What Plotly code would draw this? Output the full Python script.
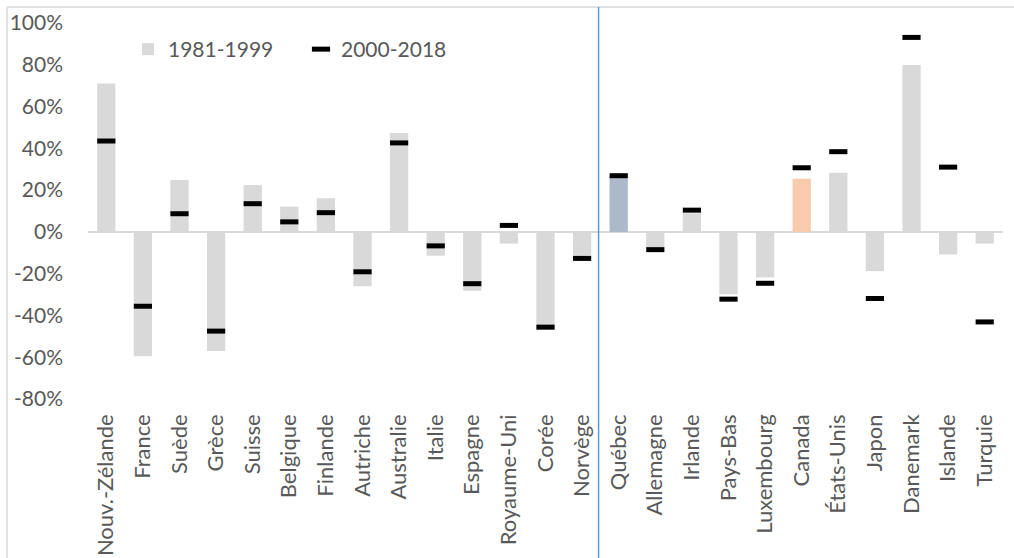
import plotly.graph_objects as go

# Country / province labels along the x axis
categories = ["Nouv.-Zélande", "France", "Suède", "Grèce", "Suisse", "Belgique",
              "Finlande", "Autriche", "Australie", "Italie", "Espagne",
              "Royaume-Uni", "Corée", "Norvège", "Québec", "Allemagne",
              "Irlande", "Pays-Bas", "Luxembourg", "Canada", "États-Unis",
              "Japon", "Danemark", "Islande", "Turquie"]

# Variation (%) for each period
period_1981_1999 = [71.0, -59.5, 24.8, -57.0, 22.4, 12.1, 16.1, -26.0, 47.3, -11.4,
                    -28.2, -5.6, -47.0, -12.0, 26.4, -7.2, 8.9, -29.8, -21.8, 25.4,
                    28.3, -18.8, 79.9, -10.8, -5.6]
period_2000_2018 = [43.5, -35.6, 8.7, -47.5, 13.5, 4.8, 9.2, -19.1, 42.6, -6.7,
                    -24.8, 3.1, -45.6, -12.7, 26.9, -8.5, 10.4, -32.2, -24.6, 30.7,
                    38.4, -31.9, 93.1, 31.0, -43.1]

y_ticks = [-80, -60, -40, -20, 0, 20, 40, 60, 80, 100]

# Highlight colours
GREY = "#D9D9D9"
highlight = {"Québec": "#ADB9CA", "Canada": "#F8CBAD"}
bar_colors = [highlight.get(c, GREY) for c in categories]

TEXT = "#595959"
FONT = "Lato"

W, H = 1014, 558
ML, MR, MT, MB = 88, 11, 23, 159
plot_w = W - ML - MR
plot_h = H - MT - MB


def px_to_paper_x(px):
    return (px - ML) / plot_w


def px_to_paper_y(py):
    return (H - MB - py) / plot_h


fig = go.Figure()
fig.add_trace(go.Bar(
    x=categories, y=period_1981_1999, name="1981-1999",
    marker=dict(color=bar_colors, line=dict(width=0)),
    width=0.5,
))
fig.add_trace(go.Scatter(
    x=categories, y=period_2000_2018, name="2000-2018", mode="markers",
    marker=dict(symbol="line-ew", size=13, color="black",
                line=dict(color="black", width=5)),
))

shapes = [
    # outer frame (top and left edges)
    dict(type="line", xref="paper", yref="paper",
         x0=px_to_paper_x(7), x1=px_to_paper_x(W + 5),
         y0=px_to_paper_y(7), y1=px_to_paper_y(7),
         line=dict(color="#D9D9D9", width=1.5)),
    dict(type="line", xref="paper", yref="paper",
         x0=px_to_paper_x(7), x1=px_to_paper_x(7),
         y0=px_to_paper_y(7), y1=px_to_paper_y(H + 5),
         line=dict(color="#D9D9D9", width=1.5)),
    # separator between the two groups of countries
    dict(type="line", xref="x", yref="paper",
         x0=13.45, x1=13.45,
         y0=px_to_paper_y(7), y1=px_to_paper_y(H + 5),
         line=dict(color="#5B9BD5", width=1.5)),
]

fig.update_layout(
    width=W, height=H,
    margin=dict(l=ML, r=MR, t=MT, b=MB),
    paper_bgcolor="white", plot_bgcolor="white",
    font=dict(family=FONT, color=TEXT, size=20),
    showlegend=True,
    legend=dict(orientation="h", x=px_to_paper_x(128), y=px_to_paper_y(29),
                xanchor="left", yanchor="top",
                font=dict(family=FONT, size=21, color=TEXT),
                bgcolor="rgba(0,0,0,0)", entrywidth=128, entrywidthmode="pixels"),
    shapes=shapes,
    bargap=0.5,
)
fig.update_xaxes(
    type="category", tickangle=-90, showgrid=False, showline=False,
    ticks="", ticklabelstandoff=10, automargin=False,
    tickfont=dict(family=FONT, size=22, color=TEXT),
    range=[-0.5, len(categories) - 0.5],
)
fig.update_yaxes(
    range=[-80, 100], tickvals=y_ticks, ticktext=[f"{v}%" for v in y_ticks],
    showgrid=False, showline=False, ticks="", ticklabelstandoff=24,
    automargin=False,
    zeroline=True, zerolinecolor="#D9D9D9", zerolinewidth=2,
    tickfont=dict(family=FONT, size=21, color=TEXT),
)

fig.write_html("out.html")
